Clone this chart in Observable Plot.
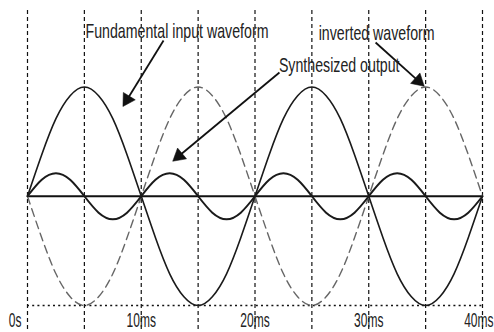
<!DOCTYPE html>
<html><head><meta charset="utf-8">
<script src="https://cdn.jsdelivr.net/npm/d3@7"></script>
<script src="https://cdn.jsdelivr.net/npm/@observablehq/plot@0.6"></script>
<style>body{margin:0;background:#fff}</style>
</head><body><div id="chart"></div>
<script>
// time samples (ms)
const timeMs = [0,1.25,2.5,3.75,5,6.25,7.5,8.75,10,11.25,12.5,13.75,15,16.25,17.5,18.75,20,21.25,22.5,23.75,25,26.25,27.5,28.75,30,31.25,32.5,33.75,35,36.25,37.5,38.75,40];
// fundamental input waveform (solid)
const fundamental = [0,0.38,0.71,0.92,1,0.92,0.71,0.38,0,-0.38,-0.71,-0.92,-1,-0.92,-0.71,-0.38,0,0.38,0.71,0.92,1,0.92,0.71,0.38,0,-0.38,-0.71,-0.92,-1,-0.92,-0.71,-0.38,0];
// inverted waveform (dashed)
const inverted = [0,-0.38,-0.71,-0.92,-1,-0.92,-0.71,-0.38,0,0.38,0.71,0.92,1,0.92,0.71,0.38,0,-0.38,-0.71,-0.92,-1,-0.92,-0.71,-0.38,0,0.38,0.71,0.92,1,0.92,0.71,0.38,0];
// synthesized output (small wave)
const synthesized = [0,0.15,0.21,0.15,0,-0.15,-0.21,-0.15,0,0.15,0.21,0.15,0,-0.15,-0.21,-0.15,0,0.15,0.21,0.15,0,-0.15,-0.21,-0.15,0,0.15,0.21,0.15,0,-0.15,-0.21,-0.15,0];
// grid and tick labels
const gridTicks = [0,5,10,15,20,25,30,35,40];
const tickValues = [0,10,20,30,40];
const tickLabels = ["0s","10ms","20ms","30ms","40ms"];
// annotations
const annotationText = ["Fundamental input waveform","inverted waveform","Synthesized output"];
const annotationX = [5.1,25.6,22.1];
const annotationY = [1.45,1.43,1.14];
const arrowFrom = [[11.96,1.425],[22.15,1.132],[30.6,1.407]];
const arrowTo = [[8.44,0.83],[12.84,0.327],[34.81,1.013]];

const W = 494, H = 332, mL = 27, mR = 12, mT = 10, mB = 27;
const xDom = [0,40], yDom = [-1,1.7];
const kx = (W - mL - mR) / (xDom[1] - xDom[0]);
const ky = (H - mT - mB) / (yDom[1] - yDom[0]);
const headBack = 7;
const arrows = arrowFrom.map((f, i) => {
  const t = arrowTo[i];
  const dxp = (t[0] - f[0]) * kx, dyp = -(t[1] - f[1]) * ky;
  const len = Math.hypot(dxp, dyp);
  const ux = dxp / len, uy = dyp / len;
  const cx = t[0] - ux * headBack / kx, cy = t[1] + uy * headBack / ky;
  return {x1: f[0], y1: f[1], x2: cx, y2: cy, hx: cx, hy: cy,
          rot: Math.atan2(dxp, -dyp) * 180 / Math.PI};
});

const squeeze = (k) => (index, scales, values, dims, context, next) => {
  const g = next(index, scales, values, dims, context);
  d3.select(g).selectAll("text").attr("transform", function() {
    return (this.getAttribute("transform") || "") + ` scale(${k},1)`;
  });
  return g;
};

const font = "Liberation Sans, Arial, sans-serif";
const midTicks = tickValues.slice(1, -1), midLabels = tickLabels.slice(1, -1);

const plot = Plot.plot({
  width: W, height: H,
  marginLeft: mL, marginRight: mR, marginTop: mT, marginBottom: mB,
  x: {domain: xDom, axis: null},
  y: {domain: yDom, axis: null},
  style: {background: "#fff", fontFamily: font},
  marks: [
    Plot.ruleX(gridTicks, {x: d => d, y1: 1.7, y2: -1.3, stroke: "#111", strokeWidth: 1.2, strokeDasharray: "4,3"}),
    Plot.ruleY([-1], {x1: 0, x2: 40, stroke: "#111", strokeWidth: 1.6, strokeDasharray: "2,3.2"}),
    Plot.ruleY([0], {x1: 0, x2: 40, stroke: "#111", strokeWidth: 2.2}),
    Plot.line(timeMs, {x: timeMs, y: inverted, curve: "natural", stroke: "#666", strokeWidth: 1.4, strokeDasharray: "8,5"}),
    Plot.line(timeMs, {x: timeMs, y: fundamental, curve: "natural", stroke: "#1a1a1a", strokeWidth: 1.6}),
    Plot.line(timeMs, {x: timeMs, y: synthesized, curve: "natural", stroke: "#1a1a1a", strokeWidth: 2}),
    Plot.link(arrows, {x1: "x1", y1: "y1", x2: "x2", y2: "y2", stroke: "#111", strokeWidth: 1.8}),
    Plot.dot(arrows, {x: "hx", y: "hy", symbol: "triangle", r: 5.2, fill: "#111", stroke: "#111", strokeWidth: 0.5, rotate: "rot"}),
    Plot.text(annotationText, {x: annotationX, y: annotationY, text: d => d, textAnchor: "start", lineAnchor: "bottom",
      fontSize: 20, fill: "#222", render: squeeze(0.71)}),
    Plot.text(midTicks, {x: midTicks, y: -1.2, text: midLabels, textAnchor: "middle", lineAnchor: "bottom",
      fontSize: 20, fill: "#222", render: squeeze(0.6)}),
    Plot.text(tickValues.slice(0,1), {x: tickValues.slice(0,1), y: -1.2, text: tickLabels.slice(0,1), textAnchor: "end", lineAnchor: "bottom",
      dx: -6, fontSize: 20, fill: "#222", render: squeeze(0.6)}),
    Plot.text(tickValues.slice(-1), {x: tickValues.slice(-1), y: -1.2, text: tickLabels.slice(-1), textAnchor: "end", lineAnchor: "bottom",
      dx: 11, fontSize: 20, fill: "#222", render: squeeze(0.6)})
  ]
});
document.getElementById("chart").appendChild(plot);
</script>
</body></html>
